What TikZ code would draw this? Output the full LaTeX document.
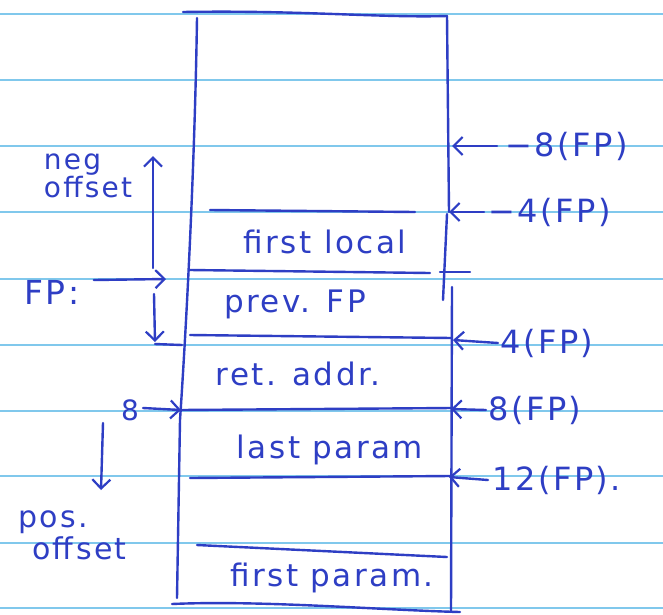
\documentclass[tikz,border=0pt]{standalone}
\usepackage{fontspec}
\setmainfont{DejaVu Sans}[LetterSpace=8]
\usetikzlibrary{arrows.meta}
\definecolor{pen}{RGB}{46,62,196}
\definecolor{rule}{RGB}{128,200,236}
\tikzset{
  ink/.style={draw=pen, line width=2.4pt, line cap=round, line join=round},
  inkarrow/.style={ink, -{Straight Barb[length=9pt,width=18pt,line width=2.2pt]}},
  ruling/.style={draw=rule, line width=1.3pt},
  slot/.style={text=pen, font=\fontsize{31}{34}\selectfont, inner sep=0pt},
  offs/.style={text=pen, font=\fontsize{32}{34}\selectfont, inner sep=0pt, anchor=west},
  side/.style={text=pen, font=\fontsize{30}{36}\selectfont, inner sep=0pt, align=left}
}
\begin{document}
\begin{tikzpicture}[x=1pt,y=-1pt]
\useasboundingbox (0,0) rectangle (663,614);
\fill[white] (0,0) rectangle (663,614);

% ruled paper
\foreach \yy in {14,80,146,212,279,345,411,476,543,608}
  \draw[ruling] (0,\yy) -- (663,\yy);

% frame outline
\draw[ink] (183,12) .. controls (300,10) and (380,18) .. (447,16);
\draw[ink] (197,18) .. controls (195,150) and (188,300) .. (180,420) -- (177,598);
\draw[ink] (447,16) -- (449,212);
\draw[ink] (447,214) -- (443,300);
\draw[ink] (452,287) -- (451,612);
\draw[ink] (172,604) .. controls (260,600) and (380,610) .. (460,612);

% slot dividers
\draw[ink] (210,210) -- (415,212);
\draw[ink] (190,270) -- (430,273);
\draw[ink] (440,272) -- (470,272);
\draw[ink] (190,335) -- (452,338);
\draw[ink] (180,410) -- (452,408);
\draw[ink] (190,478) -- (450,476);
\draw[ink] (197,545) -- (447,557);

% slot contents
\node[slot] (local)  at (325,242) {first local};
\node[slot] (prevfp) at (295,304) {prev. FP};
\node[slot] (ret)    at (298,374) {ret. addr.};
\node[slot] (last)   at (330,450) {last param};
\node[slot] (first)  at (332,578) {first param.};

% offsets from FP
\coordinate (em8) at (452,146);
\coordinate (em4) at (449,212);
\coordinate (ep4) at (453,340);
\coordinate (ep8) at (451,409);
\coordinate (ep12) at (449,477);
\node[offs] (om8)  at (505,146) {−8(FP)};
\node[offs] (om4)  at (488,212) {−4(FP)};
\node[offs] (op4)  at (500,343) {4(FP)};
\node[offs] (op8)  at (488,410) {8(FP)};
\node[offs] (op12) at (492,480) {12(FP).};
\draw[inkarrow] (om8.west)  ++(-8,0) -- (em8);
\draw[inkarrow] (om4.west)  ++(-4,0) -- (em4);
\draw[inkarrow] (op4.west)  ++(-2,0) -- (ep4);
\draw[inkarrow] (op8.west)  ++(-2,0) -- (ep8);
\draw[inkarrow] (op12.west) ++(-4,0) -- (ep12);

% left side
\node[side, font=\fontsize{28}{34}\selectfont] (neg) at (88,176) {neg\\[-6pt]offset};
\coordinate (upfoot) at (153,268);
\coordinate (uphead) at (153,156);
\draw[inkarrow] (upfoot) -- (uphead);

\node[text=pen, font=\fontsize{33}{36}\selectfont, inner sep=0pt] (fp) at (52,292) {FP:};
\coordinate (fptip) at (166,279);
\draw[inkarrow] (fp.east) ++(14,-12) -- (fptip);

\coordinate (dntop) at (154,294);
\coordinate (dnend) at (155,342);
\coordinate (dnstub) at (182,345);
\draw[inkarrow] (dntop) -- (dnend);
\draw[ink] (dnend) ++(0,2) -- (dnstub);

\node[text=pen, font=\fontsize{28}{30}\selectfont, inner sep=0pt] (sp) at (130,410) {8};
\coordinate (sptip) at (181,410);
\draw[inkarrow] (sp.east) ++(4,-2) -- (sptip);

\coordinate (posfoot) at (103,423);
\coordinate (poshead) at (101,490);
\draw[inkarrow] (posfoot) -- (poshead);

\node[side, anchor=west] (pos) at (18,535) {pos.\\[-4pt]\hspace*{14pt}offset};
\end{tikzpicture}
\end{document}
